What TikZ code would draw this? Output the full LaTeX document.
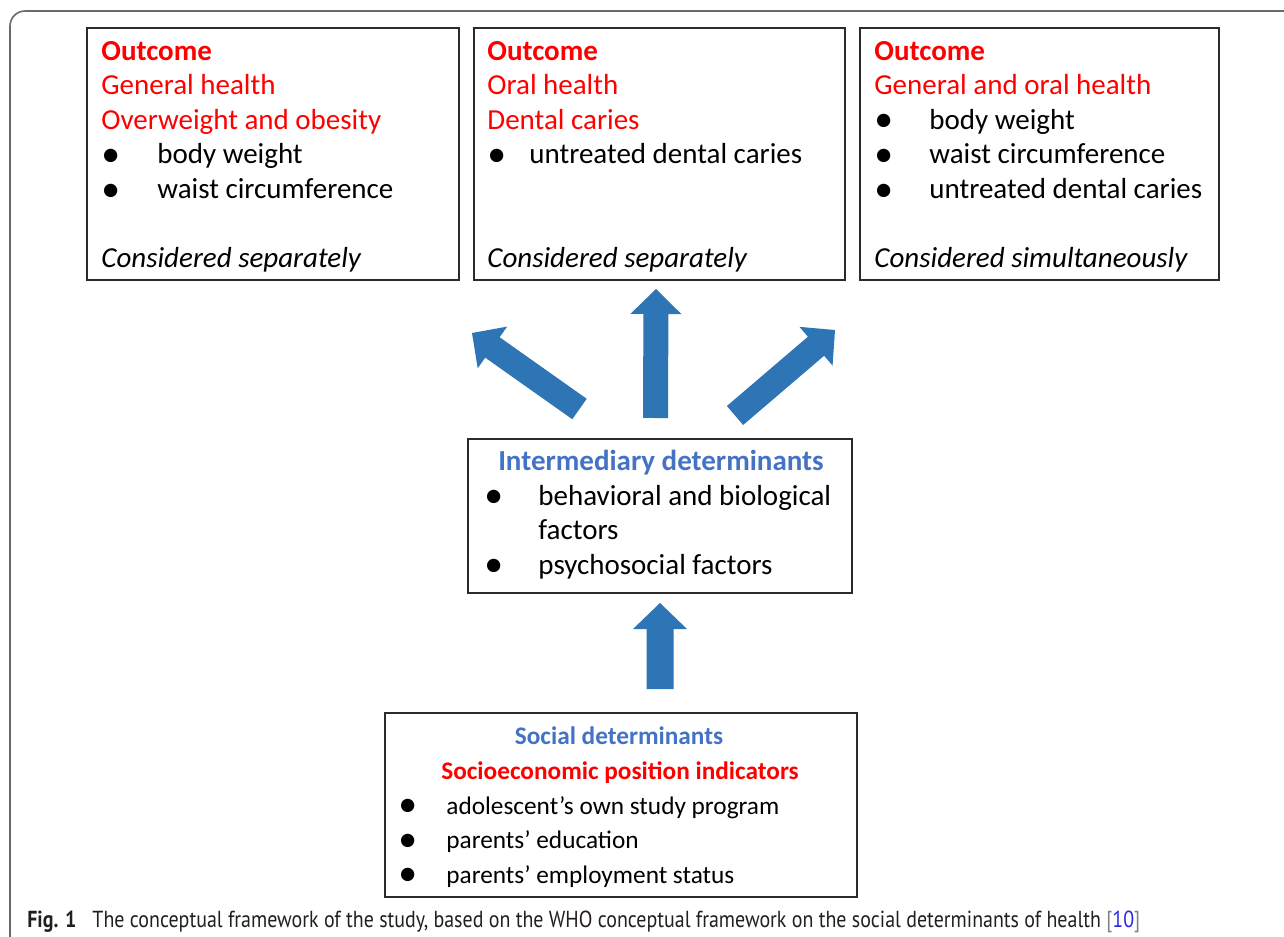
\documentclass[tikz,border=0pt]{standalone}
\usepackage{fontspec}
\usepackage{graphicx}
\setmainfont{Carlito}
\newfontfamily\capfont[FakeStretch=0.86]{PT Sans}
\usetikzlibrary{calc}

\definecolor{outred}{HTML}{FF0000}
\definecolor{headblue}{HTML}{4472C4}
\definecolor{arrowblue}{HTML}{2E75B6}
\definecolor{boxline}{HTML}{2B2B2B}
\definecolor{framegray}{HTML}{6A6A6A}
\definecolor{citeblue}{HTML}{2A2AE0}
\definecolor{captext}{HTML}{231F20}

% stacked lines with a fixed baseline distance; the node baseline is the first line
\newcommand{\stack}[1]{\vtop{\baselineskip=0.692cm\lineskip=0pt\lineskiplimit=-1cm #1}}
\newcommand{\row}[1]{\hbox{#1}}
\newcommand{\bigdot}{{\fontsize{16.5pt}{0pt}\selectfont\raisebox{-0.055cm}{\scalebox{1.3}{\textbullet}}}}
\newcommand{\bul}[2]{\hbox{\makebox[#1][l]{\bigdot}#2}}

% block arrow: #1 tail, #2 tip, #3 half shaft width, #4 half head width, #5 head length
\newcommand{\blockarrow}[5]{%
  \coordinate (ba-h) at ($(#2)!#5!(#1)$);
  \fill[arrowfill] ($(#1)!#3!90:(#2)$) -- ($(ba-h)!#3!90:(#2)$) -- ($(ba-h)!#4!90:(#2)$)
    -- (#2) -- ($(ba-h)!#4!-90:(#2)$) -- ($(ba-h)!#3!-90:(#2)$) -- ($(#1)!#3!-90:(#2)$) -- cycle;
}

\begin{document}
\begin{tikzpicture}[x=0.02cm, y=-0.02cm,
  box/.style={draw=boxline, line width=1.1pt, fill=white, inner sep=0pt},
  body/.style={inner sep=0pt, anchor=base west, text=black,
    font=\fontsize{16.5pt}{19.6pt}\selectfont},
  heading/.style={inner sep=0pt, anchor=base, text=headblue,
    font=\fontsize{16.5pt}{19.6pt}\selectfont\bfseries},
  small/.style={font=\fontsize{14.4pt}{19.6pt}\selectfont},
  smallhead/.style={font=\fontsize{14.4pt}{19.6pt}\selectfont\bfseries},
  arrowfill/.style={fill=arrowblue},
  ]
\clip (0,0) rectangle (1284,936);
\fill[white] (0,0) rectangle (1284,936);

% figure frame
\draw[framegray, line width=0.9pt, rounded corners=0.3cm] (10,11) rectangle (1320,980);

% outcome boxes
\node (b1) [box, minimum width=7.44cm, minimum height=5.04cm] at (273,154) {};
\node (b2) [box, minimum width=7.42cm, minimum height=5.04cm] at (659.5,154) {};
\node (b3) [box, minimum width=7.18cm, minimum height=5.04cm] at (1039.5,154) {};

\node (t1) [body] at ($(b1.north west)+(15,33)$) {\stack{%
  \row{\textcolor{outred}{\bfseries Outcome}}
  \row{\textcolor{outred}{General health}}
  \row{\textcolor{outred}{Overweight and obesity}}
  \bul{1.12cm}{body weight}
  \bul{1.12cm}{waist circumference}
  \row{}
  \row{\itshape Considered separately}}};

\node (t2) [body] at ($(b2.north west)+(14,33)$) {\stack{%
  \row{\textcolor{outred}{\bfseries Outcome}}
  \row{\textcolor{outred}{Oral health}}
  \row{\textcolor{outred}{Dental caries}}
  \bul{0.84cm}{untreated dental caries}
  \row{}
  \row{}
  \row{\itshape Considered separately}}};

\node (t3) [body] at ($(b3.north west)+(15,33)$) {\stack{%
  \row{\textcolor{outred}{\bfseries Outcome}}
  \row{\textcolor{outred}{General and oral health}}
  \bul{1.1cm}{body weight}
  \bul{1.1cm}{waist circumference}
  \bul{1.1cm}{untreated dental caries}
  \row{}
  \row{\itshape Considered simultaneously}}};

% intermediary determinants
\node (mid) [box, minimum width=7.68cm, minimum height=3.08cm] at (660,516) {};
\node (mh) [heading] at ($(mid.north)+(1,32)$) {Intermediary determinants};
\node (mt) [body] at ($(mid.north west)+(17,67)$) {\stack{%
  \bul{1.08cm}{behavioral and biological}
  \row{\hspace{1.08cm}factors}
  \bul{1.08cm}{psychosocial factors}}};

% social determinants
\node (soc) [box, minimum width=9.44cm, minimum height=3.68cm] at (621,805) {};
\node (sh) [heading, smallhead] at ($(soc.north)+(-2,32)$) {Social determinants};
\node (sr) [heading, smallhead, text=outred] at ($(soc.north)+(-1,67)$) {Socioeconomic position indicators};
\node (st) [body, small] at ($(soc.north west)+(14,102)$) {\stack{%
  \bul{0.96cm}{adolescent’s own study program}
  \bul{0.96cm}{parents’ education}
  \bul{0.96cm}{parents’ employment status}}};

% block arrows
\coordinate (a1t) at (579.5,409);  \coordinate (a1h) at (472,333);
\coordinate (a2t) at (655.5,418);  \coordinate (a2h) at (656,289);
\coordinate (a3t) at (735,415.5);  \coordinate (a3h) at (835,330);
\coordinate (a4t) at (660,689);    \coordinate (a4h) at (660,603);
\blockarrow{a1t}{a1h}{0.25cm}{0.51cm}{0.5cm}
\blockarrow{a2t}{a2h}{0.25cm}{0.51cm}{0.5cm}
\blockarrow{a3t}{a3h}{0.25cm}{0.51cm}{0.5cm}
\blockarrow{a4t}{a4h}{0.27cm}{0.54cm}{0.52cm}

% caption
\node (cap) [inner sep=0pt, anchor=base west, text=captext,
  font=\capfont\fontsize{13.2pt}{15pt}\selectfont] at (27,927)
  {\textbf{Fig. 1}\hspace{0.32cm}The conceptual framework of the study, based on the WHO conceptual framework on the social determinants of health \textcolor{gray}{[}\textcolor{citeblue}{10}\textcolor{gray}{]}};
\end{tikzpicture}
\end{document}
